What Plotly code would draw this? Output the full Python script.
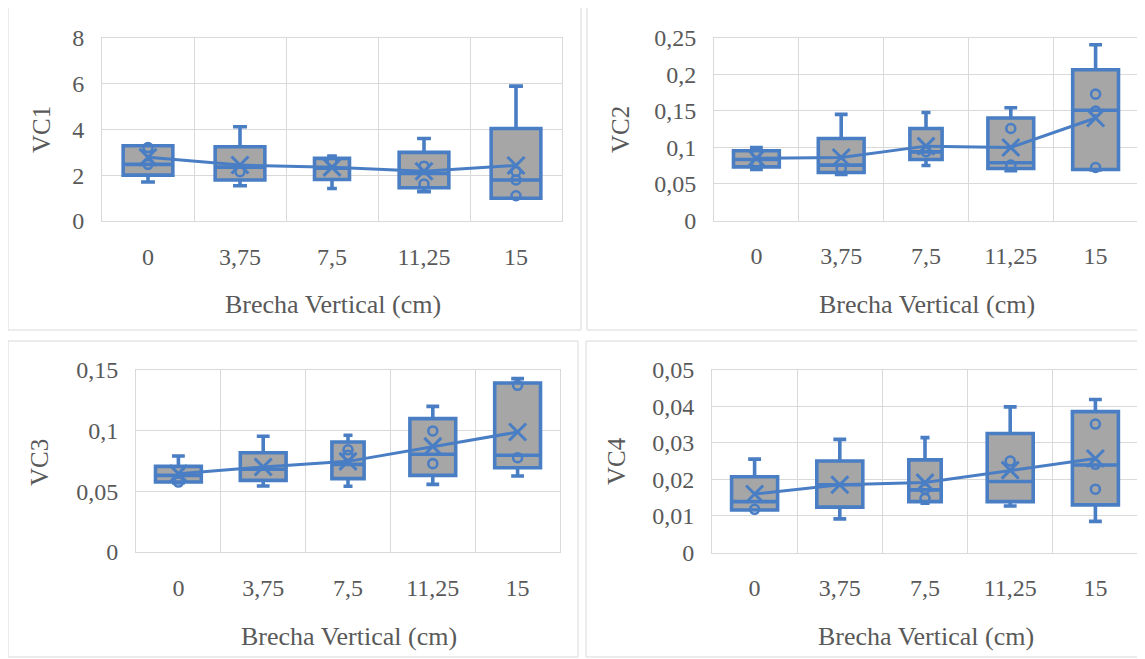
import plotly.graph_objects as go

W, H = 1145, 659
OFF = 8  # page body margin offset

categories = ["0", "3,75", "7,5", "11,25", "15"]
box_widths = [0.54, 0.54, 0.38, 0.54, 0.54]

# VC1
vc1_min = [1.70, 1.54, 1.42, 1.28, 0.99]
vc1_q1 = [2.00, 1.79, 1.81, 1.45, 0.99]
vc1_med = [2.47, 2.35, 2.30, 2.07, 1.79]
vc1_q3 = [3.28, 3.24, 2.73, 2.99, 4.03]
vc1_max = [3.28, 4.11, 2.83, 3.60, 5.88]
vc1_mean = [2.78, 2.44, 2.34, 2.17, 2.42]
vc1_pts = [[3.20, 2.47], [2.15], [2.58], [2.39, 1.61], [2.16, 1.79, 1.10]]

# VC2
vc2_min = [0.0697, 0.0630, 0.0751, 0.0680, 0.0690]
vc2_q1 = [0.0733, 0.0656, 0.0833, 0.0710, 0.0697]
vc2_med = [0.0833, 0.0756, 0.0938, 0.0788, 0.1507]
vc2_q3 = [0.0952, 0.1120, 0.1257, 0.1400, 0.2060]
vc2_max = [0.0997, 0.1450, 0.1475, 0.1540, 0.2400]
vc2_mean = [0.0850, 0.0860, 0.1016, 0.0997, 0.1400]
vc2_pts = [[0.0925, 0.0790], [0.0710], [0.0940], [0.1257, 0.0756], [0.1726, 0.1494, 0.0724]]

# VC3
vc3_min = [0.0567, 0.0542, 0.0540, 0.0556, 0.0625]
vc3_q1 = [0.0575, 0.0589, 0.0603, 0.0630, 0.0693]
vc3_med = [0.0630, 0.0680, 0.0720, 0.0803, 0.0795]
vc3_q3 = [0.0704, 0.0816, 0.0904, 0.1096, 0.1389]
vc3_max = [0.0789, 0.0951, 0.0959, 0.1197, 0.1425]
vc3_mean = [0.0644, 0.0699, 0.0745, 0.0868, 0.0986]
vc3_pts = [[0.0575], [], [0.0840, 0.0795], [0.0995, 0.0726], [0.1370, 0.0775]]

# VC4
vc4_min = [0.0116, 0.0092, 0.0135, 0.0127, 0.0085]
vc4_q1 = [0.0116, 0.0124, 0.0139, 0.0139, 0.0130]
vc4_med = [0.0139, 0.0185, 0.0171, 0.0194, 0.0239]
vc4_q3 = [0.0207, 0.0250, 0.0253, 0.0325, 0.0385]
vc4_max = [0.0255, 0.0309, 0.0314, 0.0398, 0.0418]
vc4_mean = [0.0160, 0.0185, 0.0191, 0.0225, 0.0257]
vc4_pts = [[0.0118], [], [0.0173, 0.0148], [0.0250], [0.0351, 0.0241, 0.0173]]

vc1_ticks = [0, 2, 4, 6, 8]
vc1_ticktext = ["0", "2", "4", "6", "8"]
vc2_ticks = [0, 0.05, 0.1, 0.15, 0.2, 0.25]
vc2_ticktext = ["0", "0,05", "0,1", "0,15", "0,2", "0,25"]
vc3_ticks = [0, 0.05, 0.1, 0.15]
vc3_ticktext = ["0", "0,05", "0,1", "0,15"]
vc4_ticks = [0, 0.01, 0.02, 0.03, 0.04, 0.05]
vc4_ticktext = ["0", "0,01", "0,02", "0,03", "0,04", "0,05"]

x_title = "Brecha Vertical (cm)"
y_titles = ["VC1", "VC2", "VC3", "VC4"]

BLUE = "#4a7ec4"
GRAY = "#a6a6a6"
TXT = "#595959"
GRID = "#d9d9d9"
FONT = "Liberation Serif"

panels = [
    dict(mn=vc1_min, q1=vc1_q1, med=vc1_med, q3=vc1_q3, mx=vc1_max, mean=vc1_mean, pts=vc1_pts,
         ticks=vc1_ticks, tt=vc1_ticktext, rng=[0, 8],
         px=(102, 562, 37.5, 221), border=(8, 581, 7, 330), ytitle=(41, 130), xtitle=(333, 305)),
    dict(mn=vc2_min, q1=vc2_q1, med=vc2_med, q3=vc2_q3, mx=vc2_max, mean=vc2_mean, pts=vc2_pts,
         ticks=vc2_ticks, tt=vc2_ticktext, rng=[0, 0.25],
         px=(714, 1138, 37.5, 220.5), border=(587, 1144, 7, 330), ytitle=(620, 130), xtitle=(927, 305)),
    dict(mn=vc3_min, q1=vc3_q1, med=vc3_med, q3=vc3_q3, mx=vc3_max, mean=vc3_mean, pts=vc3_pts,
         ticks=vc3_ticks, tt=vc3_ticktext, rng=[0, 0.15],
         px=(136, 560, 369.5, 552), border=(8, 578, 341, 657), ytitle=(39, 463), xtitle=(349, 636)),
    dict(mn=vc4_min, q1=vc4_q1, med=vc4_med, q3=vc4_q3, mx=vc4_max, mean=vc4_mean, pts=vc4_pts,
         ticks=vc4_ticks, tt=vc4_ticktext, rng=[0, 0.05],
         px=(712, 1138, 369.5, 552.5), border=(586, 1144, 341, 657), ytitle=(616, 461), xtitle=(926, 636)),
]


def fx(X):
    return (X - OFF) / W


def fy(Y):
    return 1 - (Y - OFF) / H


fig = go.Figure()
layout = dict(width=W, height=H, margin=dict(l=0, r=0, t=0, b=0, autoexpand=False),
              paper_bgcolor="white", plot_bgcolor="white", showlegend=False,
              boxmode="overlay", font=dict(family=FONT, color=TXT, size=24))
shapes = []
annotations = []

for i, p in enumerate(panels):
    n = "" if i == 0 else str(i + 1)
    xa, ya = "x" + n, "y" + n
    x0, x1, yt, yb = p["px"]
    layout["xaxis" + n] = dict(
        domain=[fx(x0), fx(x1)], anchor=ya, type="category",
        categoryorder="array", categoryarray=categories, range=[-0.5, 4.5],
        tickson="boundaries", showgrid=True, gridcolor=GRID, gridwidth=1,
        showline=True, linecolor=GRID, mirror=True, ticks="", automargin=False,
        ticklabelstandoff=14, tickfont=dict(family=FONT, color=TXT, size=24),
        zeroline=False, fixedrange=True)
    layout["yaxis" + n] = dict(
        domain=[fy(yb), fy(yt)], anchor=xa, range=p["rng"], automargin=False,
        tickvals=p["ticks"], ticktext=p["tt"], showgrid=True, gridcolor=GRID,
        gridwidth=1, showline=True, linecolor=GRID, mirror=True, ticks="",
        ticklabelstandoff=12, tickfont=dict(family=FONT, color=TXT, size=24),
        zeroline=False, fixedrange=True)

    for j, c in enumerate(categories):
        fig.add_trace(go.Box(
            x=[c], q1=[p["q1"][j]], median=[p["med"][j]], q3=[p["q3"][j]],
            lowerfence=[p["mn"][j]], upperfence=[p["mx"][j]],
            width=box_widths[j], whiskerwidth=0.28, fillcolor=GRAY,
            line=dict(color=BLUE, width=3.6), boxpoints=False,
            xaxis=xa, yaxis=ya, hoverinfo="skip"))

    px_, py_ = [], []
    for j, c in enumerate(categories):
        for v in p["pts"][j]:
            px_.append(c)
            py_.append(v)
    fig.add_trace(go.Scatter(
        x=px_, y=py_, mode="markers", xaxis=xa, yaxis=ya,
        marker=dict(symbol="circle-open", size=9, color=BLUE, line=dict(width=2.6, color=BLUE)),
        hoverinfo="skip"))
    fig.add_trace(go.Scatter(
        x=categories, y=p["mean"], mode="lines+markers", xaxis=xa, yaxis=ya,
        line=dict(color=BLUE, width=3),
        marker=dict(symbol="x-thin-open", size=17, color=BLUE, line=dict(width=3, color=BLUE)),
        hoverinfo="skip"))

    bx0, bx1, by0, by1 = p["border"]
    shapes.append(dict(type="rect", xref="paper", yref="paper",
                       x0=fx(bx0), x1=fx(bx1), y0=fy(by1), y1=fy(by0),
                       line=dict(color=GRID, width=1), fillcolor="rgba(0,0,0,0)", layer="below"))
    tx, ty = p["xtitle"]
    annotations.append(dict(text=x_title, xref="paper", yref="paper", x=fx(tx), y=fy(ty),
                            xanchor="center", yanchor="middle", showarrow=False,
                            font=dict(family=FONT, color=TXT, size=26)))
    yx, yy = p["ytitle"]
    annotations.append(dict(text=y_titles[i], xref="paper", yref="paper", x=fx(yx), y=fy(yy),
                            xanchor="center", yanchor="middle", showarrow=False, textangle=-90,
                            font=dict(family=FONT, color=TXT, size=25)))

layout["shapes"] = shapes
layout["annotations"] = annotations
fig.update_layout(**layout)
fig.write_html("out.html")
